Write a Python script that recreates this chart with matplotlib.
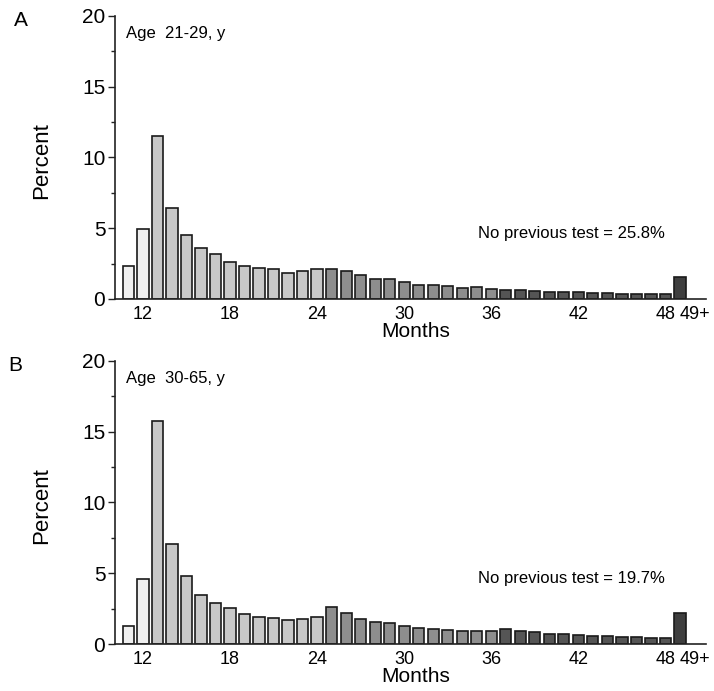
import matplotlib
matplotlib.use("Agg")
import matplotlib.pyplot as plt
from matplotlib.ticker import MultipleLocator

plt.rcParams['font.family'] = ['Liberation Sans', 'DejaVu Sans']

# ---- data ----
categories = [str(m) for m in range(11, 49)] + ["49+"]
values_a = [2.3, 4.95, 11.5, 6.4, 4.5, 3.57, 3.17, 2.6, 2.32, 2.2, 2.11, 1.85, 1.95, 2.09,
            2.11, 2.0, 1.71, 1.43, 1.41, 1.2, 1.0, 1.0, 0.94, 0.77, 0.87, 0.68,
            0.63, 0.63, 0.59, 0.52, 0.49, 0.49, 0.42, 0.42, 0.35, 0.32, 0.35, 0.32,
            1.53]
values_b = [1.27, 4.56, 15.74, 7.04, 4.78, 3.46, 2.89, 2.54, 2.12, 1.9, 1.86, 1.67, 1.79, 1.9,
            2.59, 2.16, 1.76, 1.58, 1.46, 1.27, 1.13, 1.08, 0.96, 0.94, 0.92, 0.94,
            1.06, 0.92, 0.82, 0.73, 0.68, 0.64, 0.56, 0.56, 0.52, 0.49, 0.45, 0.40,
            2.16]
group_colors = {"y1": "#efefef", "y2": "#c8c8c8", "y3": "#8e8e8e", "y4": "#555555", "y5": "#3f3f3f"}
groups = ["y1"] * 2 + ["y2"] * 12 + ["y3"] * 12 + ["y4"] * 12 + ["y5"]
panel_letters = ["A", "B"]
age_labels = ["Age  21-29, y", "Age  30-65, y"]
no_prev = ["No previous test = 25.8%", "No previous test = 19.7%"]
xtick_months = [12, 18, 24, 30, 36, 42, 48]

positions = list(range(11, 11 + len(categories)))
colors = [group_colors[g] for g in groups]

fig = plt.figure(figsize=(7.14, 6.91), dpi=100)
axes_rects = [[0.1611, 0.5673, 0.8277, 0.4096], [0.1611, 0.0680, 0.8277, 0.4096]]
letter_pos = [(0.029, 0.971), (0.021, 0.471)]

for i, (rect, vals) in enumerate(zip(axes_rects, [values_a, values_b])):
    ax = fig.add_axes(rect)
    ax.bar(positions, vals, width=0.78, color=colors, edgecolor="#1a1a1a", linewidth=1.2)
    ax.set_xlim(10.07, 50.8)
    ax.set_ylim(0, 20)
    for s in ["top", "right"]:
        ax.spines[s].set_visible(False)
    for s in ["left", "bottom"]:
        ax.spines[s].set_color("#222222")
        ax.spines[s].set_linewidth(1.2)
    ax.yaxis.set_major_locator(MultipleLocator(5))
    ax.yaxis.set_minor_locator(MultipleLocator(2.5))
    ax.tick_params(axis="y", which="major", length=5, width=1.0, labelsize=15, pad=2, colors="#222222", labelcolor="black")
    ax.tick_params(axis="y", which="minor", length=3, width=1.0, colors="#222222")
    ax.set_xticks(xtick_months + [50.05])
    ax.set_xticklabels([str(m) for m in xtick_months] + ["49+"])
    ax.tick_params(axis="x", length=0, labelsize=13, pad=5)
    ax.set_xlabel("Months", fontsize=15, va="top")
    ax.xaxis.set_label_coords(0.509, -0.082)
    ax.set_ylabel("Percent", fontsize=16)
    ax.yaxis.set_label_coords(-0.107, 0.49)
    ax.text(0.018, 0.965, age_labels[i], transform=ax.transAxes, fontsize=12, ha="left", va="top")
    ax.text(41.5, 4.65, no_prev[i], fontsize=12, ha="center", va="center")
    fig.text(letter_pos[i][0], letter_pos[i][1], panel_letters[i], fontsize=15, ha="center", va="center")

fig.savefig("out.png", dpi=100)
